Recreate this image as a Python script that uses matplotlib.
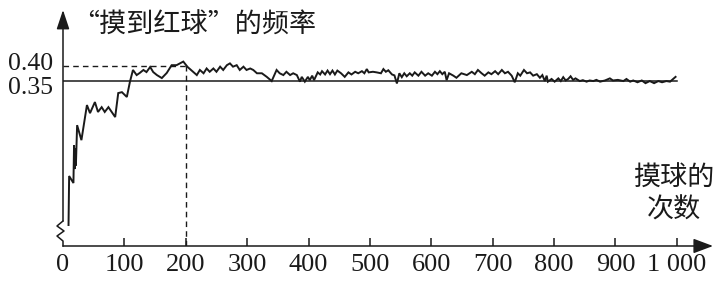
import numpy as np
import matplotlib
matplotlib.use('Agg')
import matplotlib.pyplot as plt
from matplotlib.ticker import NullLocator
from matplotlib.transforms import ScaledTranslation

plt.rcParams['font.family'] = ['Liberation Serif', 'Noto Sans CJK SC']
INK = '#1a1a1a'
CJK = ['Noto Sans CJK SC', 'DejaVu Sans']

# number of draws and the frequency of a red ball
trials = [9, 10, 17, 18, 19, 20, 21, 23, 30, 39, 44, 52, 57, 63, 68, 74, 85, 90, 96, 104,
          109, 114, 120, 125, 131, 136, 142, 147, 153, 161, 169, 177, 185, 196, 203, 212,
          218, 223, 229, 234, 239, 245, 250, 256, 261, 267, 272, 277, 283, 288, 294, 299,
          305, 310, 316, 324, 332, 340, 348, 353, 359, 364, 370, 375, 381, 386, 389, 394,
          399, 402, 406, 409, 415, 419, 422, 427, 431, 435, 439, 443, 447, 453, 459, 465,
          470, 476, 481, 487, 491, 495, 498, 505, 511, 518, 522, 526, 530, 536, 540, 544,
          548, 552, 556, 560, 565, 569, 573, 579, 584, 590, 595, 601, 606,
          610, 614, 618, 622, 625, 629, 636, 641, 649, 658, 666, 671, 676, 682, 687, 693,
          698, 704, 709, 715, 720, 725, 731, 736, 741, 745, 751, 756, 761, 766, 772, 777,
          781, 785, 788, 790, 796,
          801, 807, 811, 815, 819, 823, 827, 831, 835, 842, 847, 853, 858, 864, 869, 875,
          883, 891, 896, 904, 913, 918, 924, 929, 936, 943, 949, 956, 963, 970, 976, 983,
          989, 994, 998]
freq = [0.03, 0.10, 0.09, 0.144, 0.11, 0.14, 0.115, 0.203, 0.153, 0.27, 0.243, 0.28, 0.247, 0.263,
        0.247, 0.263, 0.23, 0.31, 0.313, 0.297, 0.347, 0.387, 0.37, 0.377, 0.387, 0.38, 0.397,
        0.38, 0.37, 0.36, 0.377, 0.403, 0.403, 0.415, 0.397, 0.381,
        0.37, 0.387, 0.376, 0.392, 0.381, 0.392, 0.381, 0.398, 0.387, 0.403, 0.409, 0.398,
        0.403, 0.387, 0.398, 0.387, 0.392, 0.387, 0.376, 0.376, 0.364, 0.35, 0.387, 0.376,
        0.37, 0.381, 0.37, 0.376, 0.37, 0.348, 0.364, 0.348,
        0.364, 0.353, 0.368, 0.353, 0.379, 0.372, 0.383, 0.372, 0.385, 0.373, 0.385, 0.372,
        0.385, 0.376, 0.364, 0.379, 0.372, 0.381, 0.376, 0.383, 0.376, 0.39, 0.379, 0.381,
        0.379, 0.376, 0.39, 0.381, 0.386, 0.372, 0.369, 0.342, 0.376, 0.363, 0.376, 0.366,
        0.376, 0.368, 0.379, 0.368, 0.381, 0.368, 0.376, 0.368, 0.381,
        0.373, 0.383, 0.373, 0.381, 0.353, 0.376, 0.368, 0.361, 0.376, 0.37, 0.381, 0.373,
        0.387, 0.376, 0.368, 0.379, 0.373, 0.383, 0.373, 0.387, 0.376, 0.381, 0.368, 0.346,
        0.376, 0.368, 0.387, 0.376, 0.379, 0.368, 0.373, 0.361, 0.37, 0.35, 0.368, 0.348, 0.357,
        0.348, 0.359, 0.35, 0.363, 0.352, 0.357, 0.366, 0.354, 0.359, 0.35, 0.353, 0.348,
        0.352, 0.35, 0.354, 0.348, 0.352, 0.359, 0.352, 0.354, 0.35, 0.357, 0.348, 0.352,
        0.346, 0.352, 0.343, 0.35, 0.343, 0.35, 0.346, 0.35, 0.348, 0.357, 0.364]

x_ticks = [0, 100, 200, 300, 400, 500, 600, 700, 800, 900, 1000]
x_labels = ['0', '100', '200', '300', '400', '500', '600', '700', '800', '900', '1 000']
y_ticks = [0.35, 0.40]
y_labels = ['0.35', '0.40']
p_stable = 0.35
mark_x, mark_y = 200, 0.40

# broken y axis: below BRK the scale is stretched
BRK, K = 0.15, 7 / 3


def fwd(v):
    v = np.asarray(v, dtype=float)
    return np.where(v >= BRK, v, BRK - (BRK - v) * K)


def inv(d):
    d = np.asarray(d, dtype=float)
    return np.where(d >= BRK, d, BRK - (BRK - d) / K)


fig = plt.figure(figsize=(7.22, 2.82), dpi=100)
ax = fig.add_axes([63 / 722, 36 / 282, 650 / 722, 236 / 282])
ax.set_yscale('function', functions=(fwd, inv))
ax.set_xlim(0, 1059)
ax.set_ylim(0, 0.587)

for s in ax.spines.values():
    s.set_visible(False)

ax.plot(trials, freq, color=INK, lw=1.4, solid_joinstyle='miter')
ax.plot([0, 1000], [p_stable, p_stable], color=INK, lw=1.1)
ax.plot([0, mark_x], [mark_y, mark_y], color=INK, lw=1.0, ls=(0, (4, 3)))
ax.plot([mark_x, mark_x], [0, mark_y], color=INK, lw=1.0, ls=(0, (4, 3)))

# axes with arrows
ax.annotate('', xy=(1, 0), xytext=(0, 0), xycoords='axes fraction',
            arrowprops=dict(arrowstyle='-|>,head_length=0.8,head_width=0.3', lw=1.1,
                            color=INK, shrinkA=0, shrinkB=0, mutation_scale=15))
ax.annotate('', xy=(0, 1), xytext=(0, 0.106), xycoords='axes fraction',
            arrowprops=dict(arrowstyle='-|>,head_length=0.9,head_width=0.3', lw=1.1,
                            color=INK, shrinkA=0, shrinkB=0, mutation_scale=13))
zx = np.array([0, -6, 1, -6, 0, 0]) / 650
zy = (246 - np.array([221, 226, 231, 236, 241, 246])) / 236
ax.plot(zx, zy, color=INK, lw=1.1, transform=ax.transAxes, clip_on=False)

ax.set_xticks(x_ticks)
ax.set_xticklabels(x_labels, fontsize=19, color=INK)
ax.tick_params(axis='x', direction='in', length=6, width=1.1, color=INK, pad=6)
ax.xaxis.get_major_ticks()[0].tick1line.set_visible(False)
ax.set_yticks(y_ticks)
ax.set_yticklabels(y_labels, fontsize=18.5, color=INK)
ax.tick_params(axis='y', length=0, pad=7)
ax.yaxis.set_minor_locator(NullLocator())
# pull the two close labels apart a little, as in the original
for lab, dy in zip(ax.get_yticklabels(), [-3, 3]):
    lab.set_transform(lab.get_transform() + ScaledTranslation(0, dy / 72, fig.dpi_scale_trans))

fig.text(72 / 722, 1 - 25 / 282, '“摸到红球”的频率', ha='left', va='center',
         fontsize=19.5, family=CJK, color=INK)
fig.text(674 / 722, 1 - 194 / 282, '摸球的\n次数', ha='center', va='center',
         fontsize=19.5, family=CJK, color=INK, linespacing=1.2)

fig.savefig('out.png', dpi=100)
